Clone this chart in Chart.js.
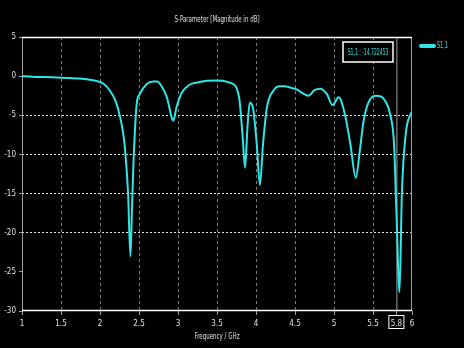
<!DOCTYPE html>
<html>
<head>
<meta charset="utf-8">
<script src="https://cdn.jsdelivr.net/npm/chart.js@4"></script>
<style>
  html, body { margin: 0; padding: 0; background: #000; }
  #wrap { width: 464px; height: 348px; }
</style>
</head>
<body>
<div id="wrap"><canvas id="chart"></canvas></div>
<script>
const freq = [1.0, 1.1, 1.2, 1.3, 1.4, 1.5, 1.6, 1.7, 1.8, 1.87, 1.95, 2.05, 2.13, 2.2, 2.26, 2.3, 2.32, 2.36, 2.39, 2.41, 2.43, 2.47, 2.51, 2.6, 2.68, 2.73, 2.79, 2.86, 2.92, 2.94, 2.98, 3.05, 3.15, 3.25, 3.37, 3.5, 3.58, 3.67, 3.75, 3.79, 3.83, 3.86, 3.89, 3.92, 3.96, 4.01, 4.05, 4.09, 4.14, 4.22, 4.3, 4.37, 4.45, 4.52, 4.6, 4.67, 4.75, 4.82, 4.91, 4.98, 5.06, 5.14, 5.21, 5.28, 5.33, 5.38, 5.44, 5.53, 5.6, 5.63, 5.72, 5.77, 5.8, 5.84, 5.87, 5.89, 5.93, 6.0];
const s11 = [0, -0.05, -0.1, -0.1, -0.15, -0.2, -0.25, -0.3, -0.35, -0.45, -0.6, -1.0, -1.9, -3.2, -5.3, -7.5, -9.2, -15, -23, -17, -10.9, -3.6, -2.3, -1.0, -0.7, -0.7, -1.3, -2.8, -5.3, -5.7, -4.0, -2.1, -1.1, -0.8, -0.6, -0.55, -0.6, -0.85, -1.5, -3.2, -7.9, -11.7, -6.6, -3.4, -4.0, -8.7, -13.9, -8.7, -4.0, -1.9, -1.3, -1.3, -1.5, -1.7, -2.2, -2.5, -1.8, -1.6, -2.3, -3.7, -2.7, -4.9, -8.7, -13.0, -9.6, -5.7, -3.4, -2.5, -2.6, -2.8, -4.9, -8.7, -17.3, -27.6, -15, -10.9, -6.6, -4.5];
const xTicks = [1, 1.5, 2, 2.5, 3, 3.5, 4, 4.5, 5, 5.5, 5.8, 6];
const yTicks = [5, 0, -5, -10, -15, -20, -25, -30];
const markerFreq = 5.8;
const markerText = "S1,1 : -14.722453";

const FONT = "'DejaVu Sans Condensed', 'DejaVu Sans', sans-serif";
const CYAN = "#2ee6e6";

// condensed text, like the narrow font of the original
function narrowText(ctx, text, x, y, align, sx) {
  ctx.save();
  ctx.translate(x, y);
  ctx.scale(sx, 1);
  ctx.textAlign = align;
  ctx.fillText(text, 0, 0);
  ctx.restore();
}

const overlay = {
  id: "overlay",
  beforeDatasetsDraw(chart) {
    const { ctx, chartArea: a, scales } = chart;
    const x = scales.x;
    ctx.save();
    const mx = x.getPixelForValue(markerFreq);
    ctx.strokeStyle = "#a0a0a0";
    ctx.lineWidth = 1;
    ctx.beginPath();
    ctx.moveTo(mx + 0.5, a.top);
    ctx.lineTo(mx + 0.5, a.bottom);
    ctx.moveTo(a.left + 0.5, a.top);
    ctx.lineTo(a.left + 0.5, a.bottom);
    ctx.moveTo(a.right - 0.5, a.top);
    ctx.lineTo(a.right - 0.5, a.bottom);
    ctx.stroke();
    ctx.strokeStyle = "#ffffff";
    ctx.lineWidth = 1.5;
    ctx.beginPath();
    ctx.moveTo(a.left, a.top + 0.5);
    ctx.lineTo(a.right, a.top + 0.5);
    ctx.moveTo(a.left, a.bottom - 0.5);
    ctx.lineTo(a.right, a.bottom - 0.5);
    ctx.stroke();
    ctx.restore();
  },
  afterDraw(chart) {
    const { ctx, chartArea: a, scales } = chart;
    const x = scales.x;
    ctx.save();
    ctx.textBaseline = "middle";
    ctx.font = "9px " + FONT;
    ctx.fillStyle = "#e0e0e0";
    narrowText(ctx, "S-Parameter [Magnitude in dB]", (a.left + a.right) / 2, 20, "center", 0.68);
    narrowText(ctx, "Frequency / GHz", (a.left + a.right) / 2, 337, "center", 0.68);
    // marker box
    const bx = 343, by = 42, bw = 50, bh = 20;
    ctx.fillStyle = "#000";
    ctx.fillRect(bx, by, bw, bh);
    ctx.strokeStyle = "#ffffff";
    ctx.lineWidth = 1.5;
    ctx.strokeRect(bx, by, bw, bh);
    ctx.fillStyle = CYAN;
    narrowText(ctx, markerText, bx + bw / 2, by + bh / 2 + 1, "center", 0.56);
    // box around 5.8 tick label
    const mx = x.getPixelForValue(markerFreq);
    ctx.strokeStyle = "#ffffff";
    ctx.lineWidth = 1;
    ctx.strokeRect(mx - 7.5, a.bottom + 4.5, 15, 13);
    // legend
    const ds = chart.data.datasets[0];
    ctx.strokeStyle = CYAN;
    ctx.lineWidth = 4;
    ctx.lineCap = "round";
    ctx.beginPath();
    ctx.moveTo(421, 46);
    ctx.lineTo(434, 46);
    ctx.stroke();
    ctx.fillStyle = CYAN;
    narrowText(ctx, ds.label, 437, 46, "left", 0.6);
    ctx.restore();
  }
};

new Chart(document.getElementById("chart"), {
  type: "line",
  data: {
    datasets: [{
      label: "S1,1",
      data: freq.map((f, i) => ({ x: f, y: s11[i] })),
      borderColor: CYAN,
      borderWidth: 2,
      pointRadius: 0,
      cubicInterpolationMode: "monotone",
      fill: false
    }]
  },
  options: {
    responsive: true,
    maintainAspectRatio: false,
    animation: false,
    events: [],
    layout: { padding: { top: 37, right: 52, left: 0, bottom: 0 } },
    plugins: { legend: { display: false }, title: { display: false }, tooltip: { enabled: false } },
    scales: {
      x: {
        type: "linear",
        min: 1,
        max: 6,
        afterBuildTicks: (s) => { s.ticks = xTicks.map((v) => ({ value: v })); },
        afterFit: (s) => { s.height = 37; },
        ticks: {
          color: "#e0e0e0",
          font: { family: FONT, size: 8 },
          padding: 4,
          maxRotation: 0,
          autoSkip: false,
          callback: (v) => String(v)
        },
        grid: {
          color: (c) => (c.tick && c.tick.value > 1 && c.tick.value < 6 && c.tick.value !== markerFreq) ? "#7a7a7a" : "rgba(0,0,0,0)",
          tickLength: 4,
          tickColor: "#a0a0a0"
        },
        border: { display: false, dash: [3, 3] }
      },
      y: {
        type: "linear",
        min: -30,
        max: 5,
        afterBuildTicks: (s) => { s.ticks = yTicks.map((v) => ({ value: v })); },
        afterFit: (s) => { s.width = 22; },
        ticks: {
          color: "#e0e0e0",
          font: { family: FONT, size: 8 },
          padding: 3,
          callback: (v) => String(v)
        },
        grid: {
          color: (c) => (c.tick && [-5, -10, -15, -20].includes(c.tick.value)) ? "#e8e8e8" : "rgba(0,0,0,0)",
          tickLength: 3,
          tickColor: "#a0a0a0"
        },
        border: { display: false, dash: [2, 2] }
      }
    }
  },
  plugins: [overlay]
});
</script>
</body>
</html>
